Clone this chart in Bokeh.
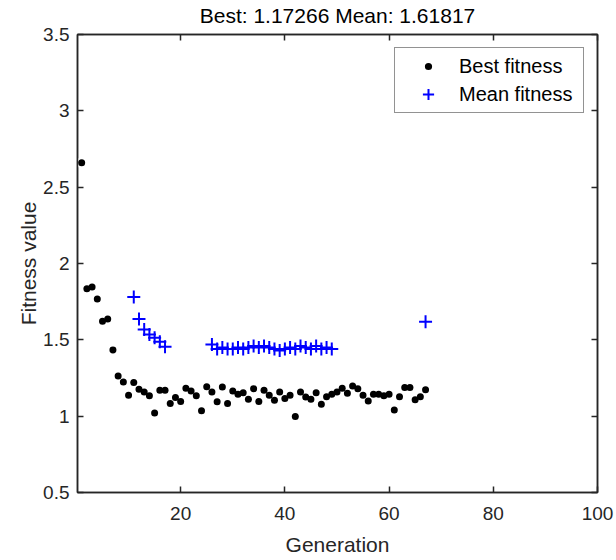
from bokeh.plotting import figure
from bokeh.models import Range1d, LinearAxis, FixedTicker, Legend, LegendItem
from bokeh.embed import file_html
from bokeh.resources import INLINE

# Data
best_gen = list(range(1, 68))
best_val = [2.66, 1.835, 1.846, 1.767, 1.622, 1.637, 1.433, 1.263, 1.224, 1.137,
            1.22, 1.176, 1.159, 1.133, 1.02, 1.17, 1.17, 1.083, 1.122, 1.096,
            1.183, 1.165, 1.133, 1.035, 1.193, 1.159, 1.094, 1.191, 1.083, 1.165,
            1.144, 1.154, 1.111, 1.18, 1.096, 1.17, 1.137, 1.105, 1.159, 1.115,
            1.137, 0.998, 1.159, 1.126, 1.111, 1.154, 1.078, 1.128, 1.144, 1.159,
            1.183, 1.15, 1.198, 1.18, 1.137, 1.10, 1.144, 1.144, 1.133, 1.144,
            1.041, 1.128, 1.187, 1.187, 1.107, 1.128, 1.17266]

mean_gen = [11, 12, 13, 14, 15, 16, 17,
            26, 27, 28, 29, 30, 31, 32, 33, 34, 35, 36, 37, 38, 39, 40, 41,
            42, 43, 44, 45, 46, 47, 48, 49, 67]
mean_val = [1.78, 1.637, 1.568, 1.535, 1.513, 1.487, 1.455,
            1.47, 1.44, 1.45, 1.44, 1.44, 1.45, 1.44, 1.45, 1.46, 1.45, 1.46,
            1.45, 1.44, 1.43, 1.44, 1.45, 1.44, 1.46, 1.45, 1.44, 1.46, 1.44,
            1.45, 1.44, 1.61817]

x_ticks = [20, 40, 60, 80, 100]
y_ticks = [0.5, 1, 1.5, 2, 2.5, 3, 3.5]
y_tick_labels = ["0.5", "1", "1.5", "2", "2.5", "3", "3.5"]
title_text = "Best: 1.17266 Mean: 1.61817"

FONT = "Liberation Sans"
AX = "#262626"

p = figure(width=616, height=560, output_backend="svg", toolbar_location=None,
           x_range=Range1d(0.2, 100), y_range=Range1d(0.5, 3.5),
           x_axis_label="Generation", y_axis_label="Fitness value")
p.min_border_left = 77
p.min_border_right = 19
p.min_border_top = 32
p.min_border_bottom = 68
p.grid.visible = False
p.outline_line_color = AX
p.outline_line_width = 1.5
p.background_fill_color = "white"
p.border_fill_color = "white"

bottom_ax = p.xaxis[0]
left_ax = p.yaxis[0]
top_ax = LinearAxis(axis_label=title_text)
right_ax = LinearAxis()
p.add_layout(top_ax, "above")
p.add_layout(right_ax, "right")

for ax in [bottom_ax, top_ax]:
    ax.ticker = FixedTicker(ticks=x_ticks)
for ax in [left_ax, right_ax]:
    ax.ticker = FixedTicker(ticks=y_ticks)
    ax.major_label_overrides = {t: l for t, l in zip(y_ticks, y_tick_labels)}

for ax in [bottom_ax, left_ax, top_ax, right_ax]:
    ax.axis_line_color = AX
    ax.axis_line_width = 1.5
    ax.major_tick_line_color = AX
    ax.major_tick_line_width = 1.5
    ax.major_tick_in = 6
    ax.major_tick_out = 0
    ax.minor_tick_line_color = None
    ax.major_label_text_font = FONT
    ax.major_label_text_font_size = "19px"
    ax.major_label_text_color = AX
    ax.axis_label_text_font = FONT
    ax.axis_label_text_font_size = "21px"
    ax.axis_label_text_font_style = "normal"
    ax.axis_label_text_color = AX

bottom_ax.major_label_standoff = 14
bottom_ax.axis_label_standoff = 10
left_ax.major_label_standoff = 8
left_ax.axis_label_standoff = 0

# top/right axes: ticks only; the top axis carries the title text
for ax in [top_ax, right_ax]:
    ax.major_label_text_color = None
    ax.major_label_standoff = 0
top_ax.axis_label_standoff = 8
top_ax.axis_label_text_color = "#000000"

# legend key glyph (drawn beneath the real dots): white ring keeps the
# legend's scaled-up circle looking like a small dot
r_best_key = p.scatter(best_gen, best_val, marker="circle", size=7,
                       fill_color="black", line_color="white", line_width=4)
r_best = p.scatter(best_gen, best_val, marker="circle", size=7,
                   fill_color="black", line_color=None)
r_mean = p.scatter(mean_gen, mean_val, marker="cross", size=13,
                   line_color="#0000FF", line_width=2)

legend = Legend(items=[LegendItem(label="Best fitness", renderers=[r_best_key]),
                       LegendItem(label="Mean fitness", renderers=[r_mean])],
                location="top_right")
legend.label_text_font = FONT
legend.label_text_font_size = "20px"
legend.label_text_color = "#000000"
legend.border_line_color = AX
legend.border_line_width = 1.5
legend.background_fill_color = "white"
legend.background_fill_alpha = 1
legend.glyph_width = 58
legend.glyph_height = 28
legend.spacing = 0
legend.padding = 4
legend.label_standoff = 2
legend.label_width = 120
legend.margin = 13
p.add_layout(legend)

open("out.html", "w").write(file_html(p, INLINE))
